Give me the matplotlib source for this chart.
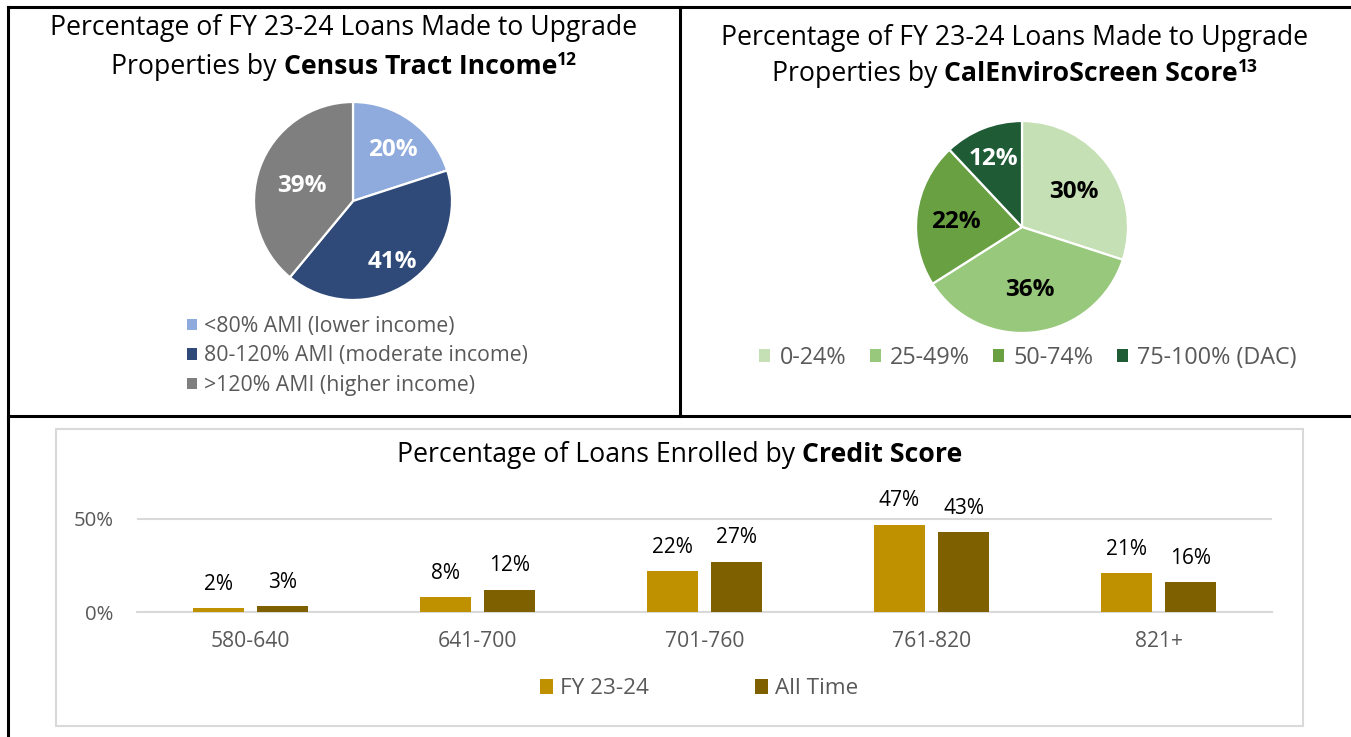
import numpy as np
import matplotlib
matplotlib.use("Agg")
import matplotlib.pyplot as plt
from matplotlib.lines import Line2D
from matplotlib.patches import Rectangle, Patch

plt.rcParams['font.family'] = ['Open Sans', 'DejaVu Sans']

# data
income_labels = ['<80% AMI (lower income)', '80-120% AMI (moderate income)', '>120% AMI (higher income)']
income_share = [20, 41, 39]
income_colors = ['#8FAADC', '#2F4A78', '#7F7F7F']

ces_labels = ['0-24%', '25-49%', '50-74%', '75-100% (DAC)']
ces_share = [30, 36, 22, 12]
ces_colors = ['#C5E0B4', '#98C87B', '#68A042', '#1F5C36']

credit_bins = ['580-640', '641-700', '701-760', '761-820', '821+']
fy_2324 = [2, 8, 22, 47, 21]
all_time = [3, 12, 27, 43, 16]
bar_colors = ['#BF9000', '#7F6000']

W, H = 1351, 737
fig = plt.figure(figsize=(W / 100, H / 100), dpi=100)
rend = fig.canvas.get_renderer()
GRAY = '#595959'
TFS = 19.2  # title font size


def box(x0, y0, x1, y1):
    # pixel box (top-left origin) -> figure fraction rect
    return [x0 / W, 1 - y1 / H, (x1 - x0) / W, (y1 - y0) / H]


def fpt(x, y):
    return x / W, 1 - y / H


def rich_line(xc, y, parts):
    # parts: (text, bold, size, rise in px)
    items = []
    for s, bold, size, rise in parts:
        t = fig.text(0, 0, s, fontsize=size, fontweight='bold' if bold else 'normal',
                     ha='left', va='baseline', color='black')
        items.append((t, rise, t.get_window_extent(rend).width))
    x = xc - sum(w for _, _, w in items) / 2
    for t, rise, w in items:
        t.set_position(fpt(x, y - rise))
        x += w


def draw_pie(cx, cy, r, values, colors, txt_colors, dists):
    ax = fig.add_axes(box(cx - r, cy - r, cx + r, cy + r))
    wedges, _ = ax.pie(values, colors=colors, startangle=90, counterclock=False,
                       wedgeprops=dict(edgecolor='white', linewidth=1.6))
    ax.set_xlim(-1, 1)
    ax.set_ylim(-1, 1)
    for w, v, c, d in zip(wedges, values, txt_colors, dists):
        a = np.deg2rad((w.theta1 + w.theta2) / 2)
        ax.text(d * np.cos(a), d * np.sin(a), f'{v}%', ha='center', va='center_baseline',
                color=c, fontsize=17.5, fontweight='bold')
    return ax, wedges


# frame lines like the table cells
for (x0, y0, x1, y1) in [(8, 7, W, 7), (8, 7, 8, H), (680, 7, 680, 416), (8, 416, W, 416)]:
    xa, ya = fpt(x0, y0)
    xb, yb = fpt(x1, y1)
    fig.add_artist(Line2D([xa, xb], [ya, yb], color='black', lw=2.2, transform=fig.transFigure))

# pie 1: census tract income
rich_line(344, 35, [('Percentage of FY 23-24 Loans Made to Upgrade', False, TFS, 0)])
rich_line(344, 74, [('Properties by ', False, TFS, 0), ('Census Tract Income', True, TFS, 0),
                    ('12', True, 12.5, 9)])
ax1, w1 = draw_pie(353, 201, 99, income_share, income_colors, ['white'] * 3, [0.68, 0.71, 0.55])
leg1 = ax1.legend([Patch(facecolor=c) for c in income_colors], income_labels,
                  loc='center left', bbox_to_anchor=fpt(187, 356), bbox_transform=fig.transFigure,
                  frameon=False, fontsize=15.3, handlelength=0.45, handleheight=0.45,
                  handletextpad=0.35, labelspacing=0.4, borderpad=0, borderaxespad=0)
for t in leg1.get_texts():
    t.set_color(GRAY)

# pie 2: calenviroscreen
rich_line(1015, 45, [('Percentage of FY 23-24 Loans Made to Upgrade', False, TFS, 0)])
rich_line(1015, 81, [('Properties by ', False, TFS, 0), ('CalEnviroScreen Score', True, TFS, 0),
                     ('13', True, 12.5, 9)])
ax2, w2 = draw_pie(1022, 227, 106, ces_share, ces_colors, ['black', 'black', 'black', 'white'],
                   [0.61, 0.57, 0.63, 0.72])
leg2 = ax2.legend([Patch(facecolor=c) for c in ces_colors], ces_labels, ncol=4,
                  loc='center', bbox_to_anchor=fpt(1028, 358), bbox_transform=fig.transFigure,
                  frameon=False, fontsize=16.8, handlelength=0.47, handleheight=0.47,
                  handletextpad=0.4, columnspacing=1.0, borderpad=0, borderaxespad=0)
for t in leg2.get_texts():
    t.set_color(GRAY)

# bar chart: credit score
fig.add_artist(Rectangle(fpt(56, 726), (1303 - 56) / W, (726 - 429) / H, transform=fig.transFigure,
                         facecolor='none', edgecolor='#D9D9D9', lw=1.5))
rich_line(680, 462, [('Percentage of Loans Enrolled by ', False, TFS, 0), ('Credit Score', True, TFS, 0)])

ax3 = fig.add_axes(box(137, 500.4, 1272, 612))
x = np.arange(len(credit_bins))
off, bw = 0.143, 0.225
vals = [np.array(fy_2324) / 100, np.array(all_time) / 100]
bars = []
for k, (v, c, name) in enumerate(zip(vals, bar_colors, ['FY 23-24', 'All Time'])):
    b = ax3.bar(x + (k * 2 - 1) * off, v, width=bw, color=c, label=name, zorder=3)
    bars.append(b)
    for rect, val in zip(b, v):
        ax3.annotate(f'{round(val * 100)}%', (rect.get_x() + rect.get_width() / 2, val),
                     xytext=(0, 19), textcoords='offset points', ha='center',
                     va='center_baseline', fontsize=15, color='black')
ax3.set_xlim(-0.5, len(credit_bins) - 0.5)
ax3.set_ylim(0, 0.6)
ax3.set_yticks([0, 0.5])
ax3.set_yticklabels(['0%', '50%'])
ax3.set_xticks(x)
ax3.set_xticklabels(credit_bins)
ax3.tick_params(length=0, labelsize=14.7, labelcolor=GRAY)
ax3.tick_params(axis='x', labelsize=15.2, pad=14)
ax3.tick_params(axis='y', pad=17)
ax3.yaxis.grid(True, color='#D9D9D9', lw=1.5, zorder=0)
for s in ['top', 'left', 'right']:
    ax3.spines[s].set_visible(False)
ax3.spines['bottom'].set_color('#D9D9D9')
ax3.spines['bottom'].set_linewidth(1.5)
ax3.set_facecolor('none')
leg3 = ax3.legend(handles=bars, loc='center', bbox_to_anchor=fpt(699, 689),
                  bbox_transform=fig.transFigure, ncol=2, frameon=False, fontsize=16.2,
                  handlelength=0.6, handleheight=0.6, handletextpad=0.3, columnspacing=4.7,
                  borderpad=0, borderaxespad=0)
for t in leg3.get_texts():
    t.set_color(GRAY)

fig.savefig('out.png', dpi=100)
